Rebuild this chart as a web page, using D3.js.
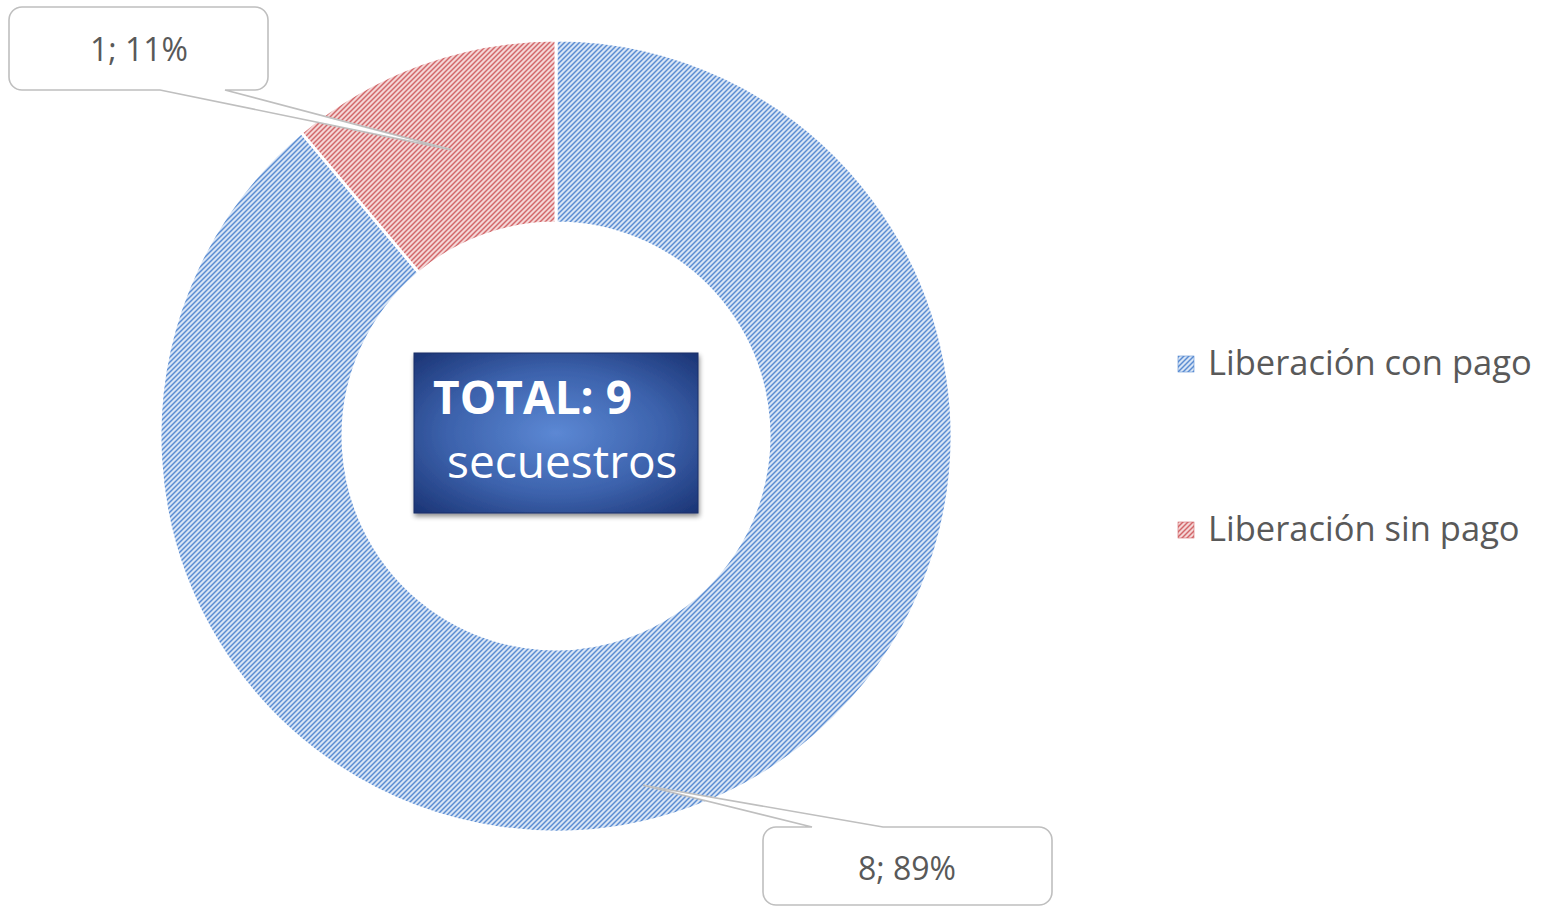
<!DOCTYPE html>
<html>
<head>
<meta charset="utf-8">
<script src="https://cdn.jsdelivr.net/npm/d3@7"></script>
<style>
  html, body { margin: 0; padding: 0; background: #ffffff; }
  svg { display: block; }
</style>
</head>
<body>
<svg id="chart" width="1550" height="907"></svg>
<script>
// ---- data ----
const categories = ["Liberación con pago", "Liberación sin pago"];
const values = [8, 1];
const percentLabels = ["89%", "11%"];
const totalTitle = "TOTAL: 9";
const totalSubtitle = "secuestros";

// ---- styles ----
const bgColors = ["#d7e4f5", "#f4d6d6"];
const lineColors = ["#5a8cd2", "#d2676a"];
const textColor = "#595959";

const svg = d3.select("#chart");
const cx = 556, cy = 436;
const outerR = 396, innerR = 213;

const defs = svg.append("defs");
categories.forEach((c, i) => {
  const p = defs.append("pattern")
    .attr("id", "hatch" + i)
    .attr("patternUnits", "userSpaceOnUse")
    .attr("width", 5).attr("height", 5);
  p.append("rect").attr("width", 5).attr("height", 5).attr("fill", bgColors[i]);
  p.append("path")
    .attr("d", "M-1,1 l2,-2 M0,5 l5,-5 M4,6 l2,-2")
    .attr("stroke", lineColors[i]).attr("stroke-width", 1.45);
});

// radial gradient for total box
const rg = defs.append("radialGradient").attr("id", "boxGrad")
  .attr("cx", "50%").attr("cy", "50%").attr("r", "70%");
rg.append("stop").attr("offset", "0%").attr("stop-color", "#5c88d4");
rg.append("stop").attr("offset", "55%").attr("stop-color", "#3c62ac");
rg.append("stop").attr("offset", "100%").attr("stop-color", "#1b3475");

const sh = defs.append("filter").attr("id", "shadow")
  .attr("x", "-10%").attr("y", "-10%").attr("width", "125%").attr("height", "130%");
sh.append("feGaussianBlur").attr("in", "SourceAlpha").attr("stdDeviation", 2.5).attr("result", "b");
sh.append("feOffset").attr("in", "b").attr("dx", 1).attr("dy", 3).attr("result", "o");
sh.append("feComponentTransfer").attr("in", "o").attr("result", "o2")
  .append("feFuncA").attr("type", "linear").attr("slope", 0.45);
const mg = sh.append("feMerge");
mg.append("feMergeNode").attr("in", "o2");
mg.append("feMergeNode").attr("in", "SourceGraphic");

// ---- pie ----
const pie = d3.pie().sort(null).value(d => d)(values);
const arc = d3.arc().innerRadius(innerR).outerRadius(outerR);
const g = svg.append("g").attr("transform", `translate(${cx},${cy})`);
g.selectAll("path.slice").data(pie).join("path")
  .attr("class", "slice")
  .attr("d", arc)
  .attr("fill", (d, i) => `url(#hatch${i})`)
  .attr("stroke", "#ffffff").attr("stroke-width", 3);

// ---- callouts ----
function calloutPath(box, wedge, tip, r) {
  const {x0, y0, x1, y1} = box;
  if (wedge.side === "bottom") {
    return `M${x0 + r},${y0} H${x1 - r} A${r},${r} 0 0 1 ${x1},${y0 + r} V${y1 - r} A${r},${r} 0 0 1 ${x1 - r},${y1}` +
      ` H${wedge.b2} L${tip[0]},${tip[1]} L${wedge.b1},${y1} H${x0 + r} A${r},${r} 0 0 1 ${x0},${y1 - r} V${y0 + r} A${r},${r} 0 0 1 ${x0 + r},${y0} Z`;
  } else {
    return `M${x0 + r},${y0} H${wedge.b1} L${tip[0]},${tip[1]} L${wedge.b2},${y0} H${x1 - r} A${r},${r} 0 0 1 ${x1},${y0 + r} V${y1 - r} A${r},${r} 0 0 1 ${x1 - r},${y1}` +
      ` H${x0 + r} A${r},${r} 0 0 1 ${x0},${y1 - r} V${y0 + r} A${r},${r} 0 0 1 ${x0 + r},${y0} Z`;
  }
}

// tip points derived from the arc geometry
const redTip = arc.centroid(pie[1]);
const blueAngle = pie[0].startAngle + (pie[0].endAngle - pie[0].startAngle) * 0.5 + 0.105;
const blueTip = [Math.sin(blueAngle) * 360, -Math.cos(blueAngle) * 360];

const callouts = [
  { i: 1, box: {x0: 9, y0: 7, x1: 268, y1: 90}, wedge: {side: "bottom", b1: 160, b2: 225},
    tip: [cx + redTip[0], cy + redTip[1]], tx: 139, ty: 61 },
  { i: 0, box: {x0: 763, y0: 827, x1: 1052, y1: 905}, wedge: {side: "top", b1: 812, b2: 883},
    tip: [cx + blueTip[0], cy + blueTip[1]], tx: 907, ty: 880 }
];
callouts.forEach(c => {
  svg.append("path")
    .attr("d", calloutPath(c.box, c.wedge, c.tip, 13))
    .attr("fill", "#ffffff")
    .attr("stroke", "#bfbfbf").attr("stroke-width", 1.6);
  svg.append("text")
    .attr("x", c.tx).attr("y", c.ty)
    .attr("text-anchor", "middle")
    .attr("font-family", "'Open Sans', sans-serif")
    .attr("font-size", 32)
    .attr("fill", textColor)
    .text(`${values[c.i]}; ${percentLabels[c.i]}`);
});

// ---- total box ----
svg.append("rect")
  .attr("x", 414).attr("y", 353).attr("width", 284).attr("height", 160)
  .attr("fill", "url(#boxGrad)")
  .attr("stroke", "#1a2f66").attr("stroke-width", 1)
  .attr("filter", "url(#shadow)");
svg.append("text")
  .attr("x", 433).attr("y", 414)
  .attr("font-family", "'Open Sans', sans-serif")
  .attr("font-weight", "bold")
  .attr("font-size", 46)
  .attr("fill", "#ffffff")
  .text(totalTitle);
svg.append("text")
  .attr("x", 447).attr("y", 478)
  .attr("font-family", "'Open Sans', sans-serif")
  .attr("font-size", 46)
  .attr("fill", "#ffffff")
  .text(totalSubtitle);

// ---- legend ----
const legendY = [364, 530];
const leg = svg.append("g");
categories.forEach((c, i) => {
  leg.append("rect")
    .attr("x", 1178).attr("y", legendY[i] - 8).attr("width", 16).attr("height", 16)
    .attr("fill", `url(#hatch${i})`)
    .attr("stroke", lineColors[i]).attr("stroke-width", 0.6);
  leg.append("text")
    .attr("x", 1208).attr("y", legendY[i] + 11)
    .attr("font-family", "'Open Sans', sans-serif")
    .attr("font-size", 34.5)
    .attr("fill", textColor)
    .text(c);
});
</script>
</body>
</html>
